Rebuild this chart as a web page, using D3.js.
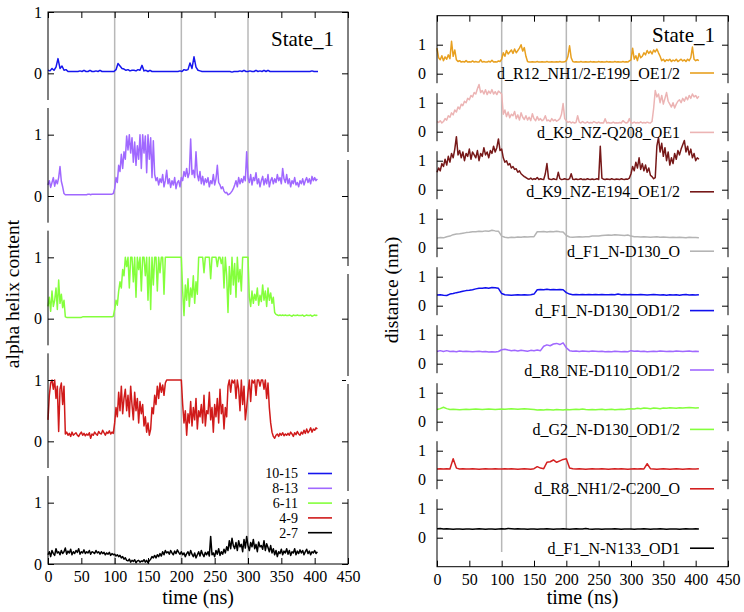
<!DOCTYPE html>
<html><head><meta charset="utf-8">
<script src="https://cdn.jsdelivr.net/npm/d3@7"></script>
<style>body{margin:0;background:#fff}</style>
</head><body><svg id="c" width="744" height="612"></svg>
<script>
// ---------- data ----------
const xTicks = [0,50,100,150,200,250,300,350,400,450];
const vLines = [100,200,300];
// left panel: alpha helix content; sample spacing (ns) per series
const helixNames = ["10-15","8-13","6-11","4-9","2-7"];
const helixColors = ["#1515ee","#a068ff","#84ff3c","#d01a1a","#000000"];
const helixSteps = [3,2,2,2,2];
const helix_10_15 = [0.05,0.04,0.08,0.05,0.1,0.24,0.08,0.12,0.05,0.06,
0.03,0.03,0.03,0.03,0.03,0.03,0.04,0.03,0.05,0.03,
0.03,0.05,0.03,0.03,0.04,0.03,0.05,0.03,0.03,0.03,
0.03,0.03,0.03,0.03,0.06,0.16,0.12,0.08,0.07,0.05,
0.06,0.04,0.05,0.05,0.04,0.06,0.05,0.13,0.04,0.05,
0.03,0.05,0.03,0.03,0.03,0.03,0.03,0.03,0.03,0.03,
0.03,0.03,0.03,0.03,0.03,0.03,0.04,0.03,0.06,0.05,
0.06,0.17,0.08,0.27,0.1,0.05,0.04,0.03,0.03,0.03,
0.03,0.03,0.03,0.03,0.03,0.03,0.03,0.03,0.03,0.03,
0.03,0.03,0.02,0.03,0.03,0.03,0.04,0.03,0.05,0.03,
0.03,0.04,0.03,0.03,0.05,0.03,0.04,0.03,0.05,0.03,
0.05,0.03,0.03,0.03,0.03,0.03,0.03,0.03,0.03,0.03,
0.03,0.03,0.03,0.03,0.03,0.03,0.03,0.03,0.03,0.03,
0.03,0.03,0.04,0.03,0.03,0.03];
const helix_8_13 = [0.18,0.25,0.14,0.22,0.3,0.16,0.26,0.2,0.3,0.48,
0.24,0.15,0.04,0.02,0.02,0.02,0.02,0.02,0.02,0.02,
0.02,0.02,0.02,0.02,0.02,0.02,0.02,0.02,0.02,0.02,
0.03,0.03,0.02,0.03,0.03,0.03,0.03,0.03,0.03,0.03,
0.03,0.03,0.03,0.03,0.03,0.03,0.03,0.03,0.03,0.04,
0.12,0.3,0.22,0.5,0.4,0.68,0.45,0.72,0.6,0.98,
0.75,1.0,0.7,0.95,0.55,0.88,0.5,0.82,0.6,1.0,
0.45,1.0,0.7,0.98,0.38,1.0,0.6,0.95,0.3,0.9,
0.35,0.25,0.3,0.18,0.28,0.22,0.35,0.15,0.25,0.42,
0.2,0.28,0.14,0.25,0.18,0.3,0.12,0.22,0.25,0.15,
0.3,0.25,0.4,0.32,0.45,0.3,0.38,0.93,0.35,0.42,
0.3,0.72,0.35,0.25,0.4,0.2,0.32,0.18,0.28,0.22,
0.3,0.15,0.25,0.2,0.35,0.18,0.28,0.5,0.22,0.18,
0.12,0.15,0.08,0.05,0.06,0.02,0.03,0.05,0.08,0.12,
0.18,0.25,0.15,0.3,0.2,0.28,0.22,0.32,0.25,0.72,
0.3,0.22,0.35,0.18,0.3,0.25,0.38,0.2,0.28,0.15,
0.25,0.32,0.18,0.28,0.2,0.35,0.15,0.25,0.3,0.2,
0.28,0.22,0.35,0.25,0.3,0.2,0.45,0.28,0.22,0.35,
0.2,0.28,0.15,0.25,0.2,0.3,0.18,0.22,0.15,0.25,
0.2,0.28,0.18,0.25,0.3,0.22,0.28,0.2,0.32,0.25,
0.3,0.25,0.28];
const helix_6_11 = [0.2,0.35,0.12,0.45,0.2,0.3,0.5,0.15,0.63,0.25,
0.4,0.18,0.3,0.03,0.02,0.02,0.02,0.02,0.02,0.02,
0.02,0.02,0.02,0.02,0.02,0.02,0.03,0.03,0.03,0.03,
0.03,0.03,0.03,0.03,0.03,0.03,0.03,0.03,0.03,0.03,
0.03,0.03,0.03,0.03,0.03,0.03,0.03,0.03,0.03,0.04,
0.15,0.3,0.22,0.45,0.6,0.5,0.8,0.7,1.0,0.85,
1.0,0.5,1.0,1.0,0.6,1.0,0.35,1.0,0.8,1.0,
0.45,1.0,1.0,0.7,1.0,0.3,1.0,0.15,1.0,0.55,
1.0,1.0,0.45,1.0,0.75,1.0,1.0,0.4,1.0,1.0,
1.0,1.0,1.0,1.0,1.0,1.0,1.0,1.0,1.0,1.0,
1.0,0.45,0.05,0.55,0.3,0.65,0.2,0.5,0.35,0.7,
0.25,0.6,0.4,1.0,1.0,1.0,1.0,0.75,1.0,1.0,
1.0,1.0,0.65,1.0,1.0,1.0,1.0,0.85,1.0,1.0,
0.9,1.0,0.5,1.0,0.7,0.1,0.85,0.4,1.0,0.55,
0.9,0.35,1.0,0.6,0.8,0.45,1.0,1.0,1.0,1.0,
1.0,0.35,0.2,0.45,0.25,0.4,0.3,0.5,0.22,0.38,
0.28,0.55,0.3,0.45,0.2,0.5,0.3,0.42,0.25,0.35,
0.1,0.07,0.06,0.05,0.06,0.05,0.06,0.05,0.06,0.05,
0.05,0.06,0.05,0.04,0.06,0.05,0.05,0.06,0.05,0.05,
0.05,0.06,0.04,0.05,0.06,0.05,0.05,0.06,0.04,0.05,
0.06,0.05,0.06];
const helix_4_9 = [0.35,0.75,0.95,1.0,0.85,1.0,0.7,0.9,0.16,0.85,
0.95,0.6,0.9,0.12,0.15,0.1,0.13,0.08,0.15,0.1,
0.12,0.14,0.1,0.08,0.12,0.15,0.1,0.13,0.09,0.12,
0.1,0.14,0.05,0.12,0.1,0.15,0.12,0.1,0.16,0.13,
0.12,0.18,0.14,0.1,0.15,0.13,0.17,0.12,0.15,0.13,
0.3,0.55,0.4,0.8,0.5,0.9,0.45,0.7,0.85,0.5,
0.75,0.4,0.9,0.6,0.35,0.8,0.5,0.7,0.3,0.65,
0.45,0.6,0.25,0.4,0.15,0.3,0.1,0.2,0.55,0.45,
0.75,0.6,0.9,0.7,0.95,0.8,0.92,0.75,0.95,1.0,
1.0,1.0,1.0,1.0,1.0,1.0,1.0,1.0,1.0,1.0,
1.0,0.6,0.3,0.5,0.1,0.45,0.3,0.65,0.25,0.55,
0.35,0.7,0.2,0.5,0.4,0.6,0.3,0.75,0.25,0.5,
0.45,0.8,0.35,0.55,0.15,0.6,0.4,0.7,0.3,0.85,
0.45,0.6,0.2,0.55,0.4,0.9,1.0,0.8,1.0,0.95,
1.0,0.7,1.0,0.85,0.5,1.0,0.6,0.9,0.35,0.55,
0.8,1.0,0.65,1.0,0.95,1.0,0.75,1.0,1.0,0.9,
1.0,1.0,0.85,1.0,0.7,0.95,0.55,0.3,0.15,0.08,
0.05,0.1,0.12,0.08,0.13,0.1,0.14,0.09,0.12,0.1,
0.13,0.1,0.15,0.12,0.08,0.14,0.11,0.16,0.12,0.1,
0.15,0.12,0.18,0.13,0.2,0.14,0.17,0.22,0.15,0.2,
0.18,0.22,0.2];
const helix_2_7 = [0.15,0.2,0.12,0.22,0.17,0.14,0.25,0.18,0.2,0.15,
0.22,0.17,0.2,0.26,0.16,0.21,0.18,0.24,0.15,0.2,
0.17,0.22,0.19,0.25,0.16,0.2,0.18,0.23,0.17,0.2,
0.18,0.22,0.16,0.2,0.19,0.17,0.22,0.18,0.2,0.16,
0.2,0.17,0.19,0.15,0.18,0.16,0.19,0.14,0.17,0.15,
0.16,0.13,0.15,0.12,0.14,0.1,0.12,0.08,0.1,0.06,
0.05,0.08,0.03,0.06,0.04,0.07,0.02,0.05,0.06,0.03,
0.05,0.04,0.07,0.03,0.06,0.02,0.05,0.08,0.12,0.1,
0.14,0.1,0.15,0.12,0.17,0.13,0.2,0.15,0.22,0.18,
0.2,0.16,0.22,0.18,0.15,0.21,0.17,0.23,0.19,0.16,
0.2,0.15,0.18,0.12,0.17,0.2,0.14,0.22,0.16,0.12,
0.18,0.1,0.15,0.2,0.13,0.22,0.16,0.12,0.19,0.15,
0.2,0.13,0.45,0.15,0.18,0.12,0.22,0.16,0.25,0.14,
0.2,0.16,0.24,0.18,0.28,0.22,0.38,0.25,0.42,0.3,
0.25,0.35,0.22,0.38,0.28,0.32,0.2,0.4,0.26,0.45,
0.3,0.22,0.35,0.28,0.4,0.25,0.32,0.2,0.36,0.28,
0.3,0.24,0.38,0.22,0.33,0.27,0.2,0.3,0.18,0.25,
0.15,0.22,0.12,0.2,0.17,0.24,0.15,0.21,0.18,0.25,
0.16,0.22,0.14,0.2,0.18,0.25,0.15,0.21,0.17,0.23,
0.18,0.22,0.15,0.2,0.24,0.17,0.21,0.15,0.2,0.18,
0.22,0.17,0.2];
const helixSeries = [helix_10_15, helix_8_13, helix_6_11, helix_4_9, helix_2_7];
const helixOffsets = [8,6,4,2,0];

// right panel: distances (nm); sample spacing (ns) per series
const distNames = ["d_R12_NH1/2-E199_OE1/2","d_K9_NZ-Q208_OE1","d_K9_NZ-E194_OE1/2","d_F1_N-D130_O",
  "d_F1_N-D130_OD1/2","d_R8_NE-D110_OD1/2","d_G2_N-D130_OD1/2","d_R8_NH1/2-C200_O","d_F1_N-N133_OD1"];
const distColors = ["#e8a020","#ecb4b4","#761818","#b4b4b4","#1010ee","#a068ff","#84ff3c","#d42020","#000000"];
const distSteps = [2.5,2.5,2.5,5,5,5,5,5,5];
const d_R12_E199 = [0.88,0.55,0.48,0.62,0.45,0.58,0.5,0.65,
0.52,1.12,0.6,0.82,0.48,0.42,0.45,0.4,
0.42,0.4,0.45,0.4,0.41,0.4,0.44,0.4,
0.42,0.4,0.4,0.48,0.4,0.42,0.4,0.4,
0.43,0.4,0.46,0.4,0.41,0.4,0.44,0.42,
0.5,0.72,0.6,0.8,0.68,0.75,0.82,0.7,
0.85,0.72,0.8,0.88,1.0,0.78,0.9,0.6,
0.42,0.4,0.4,0.41,0.4,0.4,0.42,0.4,
0.4,0.41,0.4,0.4,0.42,0.4,0.4,0.41,
0.4,0.4,0.41,0.4,0.42,0.4,0.4,0.41,
0.45,0.6,0.96,0.55,0.42,0.4,0.41,0.4,
0.4,0.42,0.4,0.4,0.41,0.4,0.4,0.42,
0.4,0.41,0.4,0.4,0.42,0.4,0.41,0.4,
0.4,0.42,0.4,0.41,0.4,0.4,0.42,0.4,
0.41,0.4,0.4,0.42,0.4,0.41,0.4,0.44,
0.48,0.88,0.5,0.62,0.45,0.7,0.55,0.6,
0.72,0.65,0.8,0.7,0.78,0.68,0.82,0.75,
0.85,0.72,0.6,0.45,0.5,0.42,0.48,0.45,
0.5,0.42,0.47,0.44,0.5,0.42,0.46,0.5,
0.44,0.48,0.42,0.5,0.45,0.55,0.92,0.5,
0.45,0.48,0.45];
const d_K9_Q208 = [0.35,0.32,0.38,0.3,0.35,0.45,0.4,0.55,
0.5,0.65,0.58,0.75,0.68,0.85,0.78,0.95,
0.9,1.05,1.0,1.15,1.1,1.25,1.2,1.35,
1.3,1.48,1.63,1.35,1.42,1.3,1.45,1.28,
1.4,1.32,1.45,1.3,1.38,1.28,1.4,1.35,
1.3,0.6,0.75,0.52,0.68,0.48,0.6,0.55,
0.7,0.45,0.58,0.4,0.65,0.5,0.42,0.55,
0.4,0.5,0.38,0.62,0.45,0.38,0.52,0.4,
0.45,0.38,0.42,0.55,0.38,0.4,0.35,0.45,
0.38,0.42,0.36,0.4,0.45,0.6,0.97,0.45,
0.38,0.32,0.35,0.3,0.33,0.3,0.32,0.55,
0.33,0.3,0.35,0.31,0.3,0.34,0.3,0.32,
0.3,0.35,0.32,0.3,0.33,0.3,0.31,0.3,
0.45,0.3,0.32,0.3,0.3,0.33,0.3,0.31,
0.3,0.32,0.3,0.38,0.33,0.3,0.32,0.45,
0.31,0.3,0.33,0.3,0.32,0.3,0.34,0.3,
0.32,0.3,0.33,0.31,0.3,0.35,0.8,1.42,
1.2,1.3,1.0,1.25,0.95,1.15,1.35,1.05,
0.95,0.85,1.0,0.82,0.95,1.05,1.1,1.0,
1.15,1.05,1.2,1.1,1.25,1.15,1.3,1.2,
1.25,1.15,1.22];
const d_K9_E194 = [0.6,0.75,0.65,0.9,0.8,1.05,0.85,1.15,
0.95,1.25,1.1,1.4,1.83,1.2,1.35,1.1,
1.3,1.0,1.25,1.15,1.4,1.05,1.3,1.2,
1.1,1.35,1.0,1.25,1.15,1.45,1.2,1.3,
1.1,1.35,1.25,1.5,1.3,1.45,1.75,1.35,
1.4,1.1,0.95,1.0,0.85,0.9,0.75,0.8,
0.7,0.72,0.6,0.65,0.55,0.5,0.45,0.42,
0.38,0.36,0.4,0.35,0.38,0.36,0.42,0.35,
0.38,0.36,0.35,0.55,0.9,0.38,0.36,0.35,
0.38,0.36,0.35,0.6,0.38,0.35,0.36,0.38,
0.36,0.35,0.38,0.55,0.36,0.35,0.37,0.35,
0.36,0.38,0.35,0.36,0.35,0.38,0.36,0.35,
0.37,0.35,0.36,0.38,0.35,1.5,0.4,0.36,
0.35,0.37,0.36,0.35,0.38,0.36,0.35,0.37,
0.36,0.35,0.38,0.36,0.35,0.37,0.36,0.4,
0.55,0.8,0.65,0.95,0.75,1.1,0.7,0.9,
0.65,0.85,0.6,0.75,0.5,0.45,0.38,0.42,
1.5,1.8,1.3,1.6,1.15,1.45,1.0,1.3,
0.85,1.1,0.9,1.25,1.05,1.35,1.2,1.4,
1.55,1.7,1.3,1.5,1.2,1.4,1.1,1.25,
1.0,1.1,1.05];
const d_F1_D130_O = [0.33,0.35,0.34,0.38,0.4,0.45,0.47,0.48,0.5,0.52,
0.53,0.55,0.55,0.57,0.56,0.58,0.57,0.6,0.58,0.57,
0.4,0.36,0.34,0.36,0.35,0.37,0.36,0.38,0.37,0.38,
0.38,0.55,0.55,0.56,0.54,0.56,0.55,0.57,0.55,0.54,
0.42,0.37,0.36,0.37,0.38,0.37,0.38,0.38,0.4,0.4,
0.4,0.42,0.43,0.44,0.43,0.45,0.44,0.43,0.42,0.44,
0.4,0.38,0.38,0.37,0.38,0.37,0.36,0.37,0.38,0.36,
0.37,0.36,0.35,0.36,0.35,0.36,0.35,0.34,0.36,0.35,
0.35,0.34];
const d_F1_D130_OD = [0.37,0.38,0.36,0.35,0.4,0.42,0.45,0.47,0.5,0.52,
0.53,0.55,0.58,0.6,0.6,0.62,0.6,0.63,0.62,0.6,
0.42,0.38,0.37,0.36,0.37,0.38,0.37,0.38,0.37,0.38,
0.4,0.55,0.56,0.55,0.57,0.55,0.56,0.55,0.56,0.55,
0.45,0.4,0.38,0.39,0.38,0.39,0.38,0.39,0.38,0.39,
0.38,0.39,0.38,0.38,0.39,0.38,0.4,0.38,0.39,0.38,
0.39,0.38,0.38,0.39,0.38,0.37,0.38,0.39,0.38,0.37,
0.38,0.36,0.38,0.37,0.38,0.36,0.38,0.39,0.37,0.38,
0.37,0.38];
const d_R8_D110 = [0.42,0.45,0.42,0.45,0.42,0.43,0.41,0.44,0.42,0.43,
0.42,0.41,0.42,0.43,0.41,0.42,0.4,0.41,0.4,0.42,
0.48,0.5,0.47,0.45,0.46,0.44,0.46,0.45,0.43,0.46,
0.45,0.47,0.45,0.6,0.65,0.62,0.68,0.7,0.66,0.72,
0.55,0.45,0.43,0.44,0.42,0.44,0.43,0.42,0.44,0.43,
0.42,0.43,0.41,0.42,0.41,0.43,0.42,0.41,0.42,0.41,
0.45,0.43,0.44,0.42,0.43,0.41,0.42,0.43,0.42,0.44,
0.43,0.42,0.43,0.42,0.44,0.43,0.42,0.43,0.44,0.42,
0.43,0.42];
const d_G2_D130 = [0.42,0.45,0.5,0.45,0.42,0.43,0.42,0.41,0.42,0.43,
0.42,0.43,0.44,0.43,0.42,0.43,0.44,0.43,0.42,0.43,
0.44,0.43,0.44,0.45,0.44,0.43,0.44,0.45,0.44,0.43,
0.42,0.4,0.41,0.4,0.42,0.41,0.4,0.42,0.41,0.4,
0.42,0.41,0.42,0.43,0.42,0.44,0.42,0.41,0.42,0.41,
0.42,0.43,0.41,0.42,0.43,0.41,0.42,0.43,0.42,0.44,
0.45,0.44,0.46,0.45,0.47,0.46,0.45,0.47,0.46,0.45,
0.47,0.46,0.48,0.47,0.46,0.48,0.47,0.48,0.49,0.48,
0.47,0.48];
const d_R8_C200 = [0.37,0.38,0.37,0.38,0.37,0.72,0.4,0.37,0.38,0.37,
0.37,0.38,0.37,0.36,0.37,0.38,0.37,0.37,0.38,0.37,
0.37,0.38,0.37,0.38,0.37,0.36,0.37,0.38,0.37,0.36,
0.38,0.45,0.4,0.38,0.6,0.62,0.68,0.6,0.65,0.7,
0.72,0.4,0.38,0.37,0.38,0.37,0.36,0.37,0.38,0.37,
0.37,0.38,0.37,0.36,0.37,0.38,0.37,0.38,0.37,0.36,
0.37,0.38,0.37,0.38,0.37,0.55,0.38,0.37,0.36,0.37,
0.38,0.37,0.36,0.37,0.38,0.37,0.36,0.37,0.38,0.37,
0.37,0.38];
const d_F1_N133 = [0.31,0.32,0.3,0.31,0.3,0.29,0.3,0.3,0.29,0.3,
0.3,0.29,0.3,0.31,0.3,0.29,0.3,0.3,0.29,0.3,
0.31,0.3,0.32,0.31,0.3,0.31,0.3,0.3,0.29,0.3,
0.3,0.29,0.3,0.3,0.31,0.3,0.29,0.3,0.3,0.31,
0.3,0.29,0.3,0.31,0.3,0.3,0.32,0.3,0.29,0.3,
0.3,0.29,0.3,0.3,0.3,0.31,0.3,0.29,0.3,0.3,
0.3,0.29,0.3,0.3,0.31,0.3,0.29,0.3,0.3,0.31,
0.3,0.29,0.3,0.3,0.3,0.29,0.3,0.31,0.3,0.3,
0.31,0.3];
const distSeries = [d_R12_E199,d_K9_Q208,d_K9_E194,d_F1_D130_O,d_F1_D130_OD,d_R8_D110,d_G2_D130,d_R8_C200,d_F1_N133];
const distOffsets = [16,14,12,10,8,6,4,2,0];

// ---------- drawing ----------
const svg = d3.select("#c");
const FONT = '"Liberation Serif","Times New Roman",serif';

function panel(cfg){
  const g = svg.append("g");
  const x = d3.scaleLinear().domain([0,450]).range([cfg.x0,cfg.x1]);
  const y = d3.scaleLinear().domain(cfg.ydom).range([cfg.yb,cfg.yt]);
  cfg.vl.forEach((v,i)=>{
    g.append("line").attr("x1",x(v)).attr("x2",x(v))
     .attr("y1",cfg.yt).attr("y2",cfg.vlEnd ? cfg.vlEnd[i] : cfg.yb)
     .attr("stroke","#b8b8b8").attr("stroke-width",1.5);
  });
  cfg.series.forEach((s,i)=>{
    const line = d3.line().x((d,j)=>x(j*cfg.steps[i])).y(d=>y(d+cfg.offsets[i]));
    g.append("path").datum(s).attr("d",line).attr("fill","none")
     .attr("stroke",cfg.colors[i]).attr("stroke-width",1.5).attr("stroke-linejoin","round");
  });
  g.append("rect").attr("x",cfg.x0).attr("y",cfg.yt).attr("width",cfg.x1-cfg.x0).attr("height",cfg.yb-cfg.yt)
   .attr("fill","none").attr("stroke","#000").attr("stroke-width",1);
  const ax = (a)=>a.tickSizeInner(-6).tickSizeOuter(0);
  const xb = g.append("g").attr("transform",`translate(0,${cfg.yb})`)
    .call(ax(d3.axisBottom(x).tickValues(xTicks).tickFormat(d3.format("d"))).tickPadding(6.5));
  const xt = g.append("g").attr("transform",`translate(0,${cfg.yt})`)
    .call(ax(d3.axisTop(x).tickValues(xTicks).tickFormat("")));
  const yl = g.append("g").attr("transform",`translate(${cfg.x0},0)`)
    .call(ax(d3.axisLeft(y).tickValues(cfg.ytv).tickFormat(v=>String(((v%2)+2)%2))).tickPadding(cfg.ypad));
  const yr = g.append("g").attr("transform",`translate(${cfg.x1},0)`)
    .call(ax(d3.axisRight(y).tickValues(cfg.ytv).tickFormat("")));
  [xb,xt,yl,yr].forEach(a=>{a.select(".domain").remove(); a.selectAll("line").attr("stroke","#000");
    a.selectAll("text").attr("font-family",FONT).attr("font-size",16).attr("fill","#000");});
  (cfg.gaps||[]).forEach(gp=>{
    g.append("rect").attr("x",(gp.side==="l"?cfg.x0:cfg.x1)-2).attr("y",gp.y).attr("width",4).attr("height",gp.h).attr("fill","#fff");
  });
  g.append("text").attr("x",(cfg.x0+cfg.x1)/2).attr("y",604).attr("text-anchor","middle")
   .attr("font-family",FONT).attr("font-size",20).text("time (ns)");
  g.append("text").attr("transform",`translate(${cfg.ylabX},${cfg.ylabY}) rotate(-90)`).attr("text-anchor","middle")
   .attr("font-family",FONT).attr("font-size",19.5).text(cfg.ylabel);
  g.append("text").attr("x",cfg.stateX).attr("y",cfg.stateY).attr("text-anchor","end")
   .attr("font-family",FONT).attr("font-size",21).text("State_1");
  return {g,x,y};
}

const L = panel({x0:48,x1:348,yt:12,yb:564,ydom:[0,9],steps:helixSteps,series:helixSeries,offsets:helixOffsets,
  colors:helixColors,vl:vLines,ytv:d3.range(0,10),ypad:6,ylabel:"alpha helix content",
  ylabX:18.5,ylabY:294,stateX:334,stateY:46,
  gaps:[7.5,5.5,3.5,1.5].map(v=>({side:"l",y:564-(v*552/9)-4,h:8}))
     .concat([152,266,376,491].map(yy=>({side:"r",y:yy,h:8})))});
helixNames.forEach((n,i)=>{
  const yy = 473.5 + i*14.8;
  L.g.append("text").attr("x",298).attr("y",yy).attr("dy","0.35em").attr("text-anchor","end")
    .attr("font-family",FONT).attr("font-size",14).text(n);
  L.g.append("line").attr("x1",308).attr("x2",332).attr("y1",yy).attr("y2",yy)
    .attr("stroke",helixColors[i]).attr("stroke-width",1.6);
});

const R = panel({x0:437,x1:728,yt:15.7,yb:566.7,ydom:[-1,18],steps:distSteps,series:distSeries,offsets:distOffsets,
  colors:distColors,vl:vLines,vlEnd:[552,530,530],ytv:d3.range(0,18),ypad:11,ylabel:"distance (nm)",
  ylabX:398,ylabY:290,stateX:715,stateY:42,
  gaps:d3.range(0,8).flatMap(k=>{const yc=(566.7-15.7)/19; const yy=537.7-(2*k+1.5)*yc; return [{side:"l",y:yy-5,h:10},{side:"r",y:yy-5,h:10}];})});
distNames.forEach((n,i)=>{
  const yy = 73 + i*59.4;
  R.g.append("text").attr("x",680).attr("y",yy).attr("dy","0.35em").attr("text-anchor","end")
    .attr("font-family",FONT).attr("font-size",16).text(n);
  R.g.append("line").attr("x1",690).attr("x2",714).attr("y1",yy).attr("y2",yy)
    .attr("stroke",distColors[i]).attr("stroke-width",1.6);
});
</script></body></html>
